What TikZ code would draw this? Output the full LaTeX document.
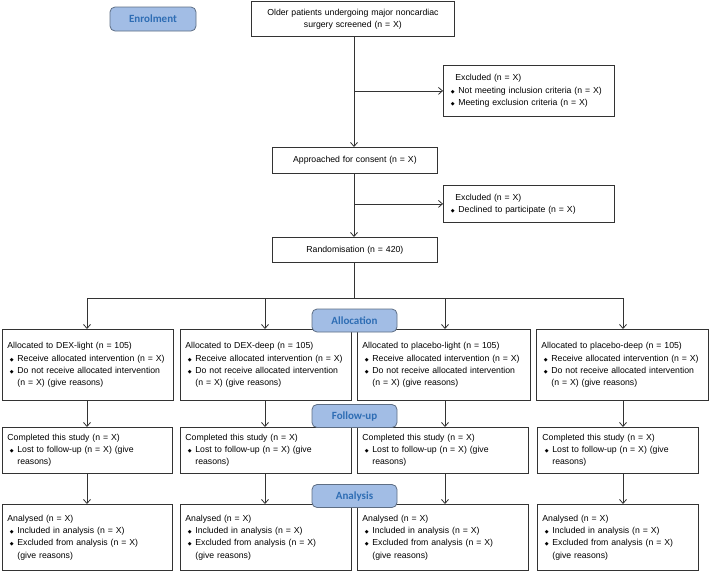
\documentclass[tikz,border=0pt]{standalone}
\usepackage{fontspec}
\setmainfont{Liberation Sans}
\newfontfamily\labfont{Carlito}
\newfontfamily\dvfont{DejaVu Sans}
\usetikzlibrary{arrows.meta}
\definecolor{ln}{HTML}{333333}
\definecolor{labfill}{HTML}{A2BDE5}
\definecolor{labdraw}{HTML}{5E6E84}
\definecolor{labtext}{HTML}{2E6DB4}
\newcommand{\bul}{\makebox[10pt][l]{\hspace{2.5pt}{\dvfont\fontsize{5}{5}\selectfont ◆}}}
\newcommand{\ind}{\hspace*{10pt}}
\begin{document}
\begin{tikzpicture}[x=1pt,y=-1pt,
  box/.style={draw=ln, line width=0.8pt, fill=white, anchor=north west,
    inner xsep=5pt, inner ysep=0pt, align=left,
    font=\fontsize{8.7}{12.3}\selectfont},
  cbox/.style={box, align=center},
  lab/.style={draw=labdraw, line width=0.8pt, fill=labfill, rounded corners=5pt,
    minimum width=85pt, minimum height=23pt, inner sep=0pt,
    text=labtext, font=\labfont\bfseries\fontsize{11}{13}\selectfont},
  arr/.style={draw=ln, line width=0.8pt, -{Straight Barb[length=4pt,width=7pt]}},
  ln/.style={draw=ln, line width=0.8pt}]
\useasboundingbox (0,0) rectangle (709,571);

% enrolment stage
\node[cbox, minimum width=203pt, minimum height=35pt, text width=193pt] (scr) at (251,1)
  {Older patients undergoing major noncardiac\\surgery screened (n = X)};
\node[box, minimum width=171pt, minimum height=51pt, text width=161pt] (exc1) at (443,65)
  {\hspace*{7pt}Excluded (n = X)\\\bul Not meeting inclusion criteria (n = X)\\\bul Meeting exclusion criteria (n = X)};
\node[cbox, minimum width=165pt, minimum height=26pt, text width=155pt] (appr) at (272,147)
  {Approached for consent (n = X)};
\node[box, minimum width=171pt, minimum height=37pt, text width=161pt] (exc2) at (443,185)
  {\hspace*{7pt}Excluded (n = X)\\\bul Declined to participate (n = X)};
\node[cbox, minimum width=165pt, minimum height=25pt, text width=155pt] (rand) at (272,237)
  {Randomisation (n = 420)};

% allocation
\node[box, minimum width=171pt, minimum height=71pt, text width=161pt] (a1) at (2,329)
  {Allocated to DEX-light (n = 105)\\\bul Receive allocated intervention (n = X)\\\bul Do not receive allocated intervention\\\ind(n = X) (give reasons)};
\node[box, minimum width=171pt, minimum height=71pt, text width=161pt] (a2) at (180,329)
  {Allocated to DEX-deep (n = 105)\\\bul Receive allocated intervention (n = X)\\\bul Do not receive allocated intervention\\\ind(n = X) (give reasons)};
\node[box, minimum width=173pt, minimum height=71pt, text width=163pt] (a3) at (357,329)
  {Allocated to placebo-light (n = 105)\\\bul Receive allocated intervention (n = X)\\\bul Do not receive allocated intervention\\\ind(n = X) (give reasons)};
\node[box, minimum width=172pt, minimum height=71pt, text width=162pt] (a4) at (536,329)
  {Allocated to placebo-deep (n = 105)\\\bul Receive allocated intervention (n = X)\\\bul Do not receive allocated intervention\\\ind(n = X) (give reasons)};

% follow-up
\node[box, minimum width=170pt, minimum height=46pt, text width=160pt] (c1) at (2,427)
  {Completed this study (n = X)\\\bul Lost to follow-up (n = X) (give\\\ind reasons)};
\node[box, minimum width=171pt, minimum height=46pt, text width=161pt] (c2) at (180,427)
  {Completed this study (n = X)\\\bul Lost to follow-up (n = X) (give\\\ind reasons)};
\node[box, minimum width=171pt, minimum height=46pt, text width=161pt] (c3) at (357,427)
  {Completed this study (n = X)\\\bul Lost to follow-up (n = X) (give\\\ind reasons)};
\node[box, minimum width=161pt, minimum height=46pt, text width=151pt] (c4) at (537,427)
  {Completed this study (n = X)\\\bul Lost to follow-up (n = X) (give\\\ind reasons)};

% analysis
\node[box, minimum width=170pt, minimum height=66pt, text width=160pt] (n1) at (2,504)
  {Analysed (n = X)\\\bul Included in analysis (n = X)\\\bul Excluded from analysis (n = X)\\\ind(give reasons)};
\node[box, minimum width=171pt, minimum height=66pt, text width=161pt] (n2) at (180,504)
  {Analysed (n = X)\\\bul Included in analysis (n = X)\\\bul Excluded from analysis (n = X)\\\ind(give reasons)};
\node[box, minimum width=171pt, minimum height=66pt, text width=161pt] (n3) at (357,504)
  {Analysed (n = X)\\\bul Included in analysis (n = X)\\\bul Excluded from analysis (n = X)\\\ind(give reasons)};
\node[box, minimum width=161pt, minimum height=66pt, text width=151pt] (n4) at (537,504)
  {Analysed (n = X)\\\bul Included in analysis (n = X)\\\bul Excluded from analysis (n = X)\\\ind(give reasons)};

% connectors
\coordinate (br) at (354,298);
\coordinate (b1) at (87,298);
\coordinate (b2) at (265,298);
\coordinate (b3) at (445,298);
\coordinate (b4) at (623,298);
\draw[arr] (scr.south -| br) -- (appr.north -| br);
\draw[arr] (exc1.west -| br) -- (exc1.west);
\draw[arr] (appr.south -| br) -- (rand.north -| br);
\draw[arr] (exc2.west -| br) -- (exc2.west);
\draw[ln] (rand.south -| br) -- (br);
\draw[ln] (b1) -- (b4);
\foreach \i in {1,2,3,4}{
  \draw[arr] (b\i) -- (b\i |- a\i.north);
  \draw[arr] (a\i.south -| b\i) -- (c\i.north -| b\i);
  \draw[arr] (c\i.south -| b\i) -- (n\i.north -| b\i);
}

% stage labels
\node[lab, minimum width=86pt, minimum height=24pt] (enr) at (153,19) {Enrolment};
\node[lab] (alloc) at (354.5,320.5) {Allocation};
\node[lab] (fup) at (354.5,416) {Follow-up};
\node[lab] (anal) at (354.5,496) {Analysis};
\end{tikzpicture}
\end{document}
